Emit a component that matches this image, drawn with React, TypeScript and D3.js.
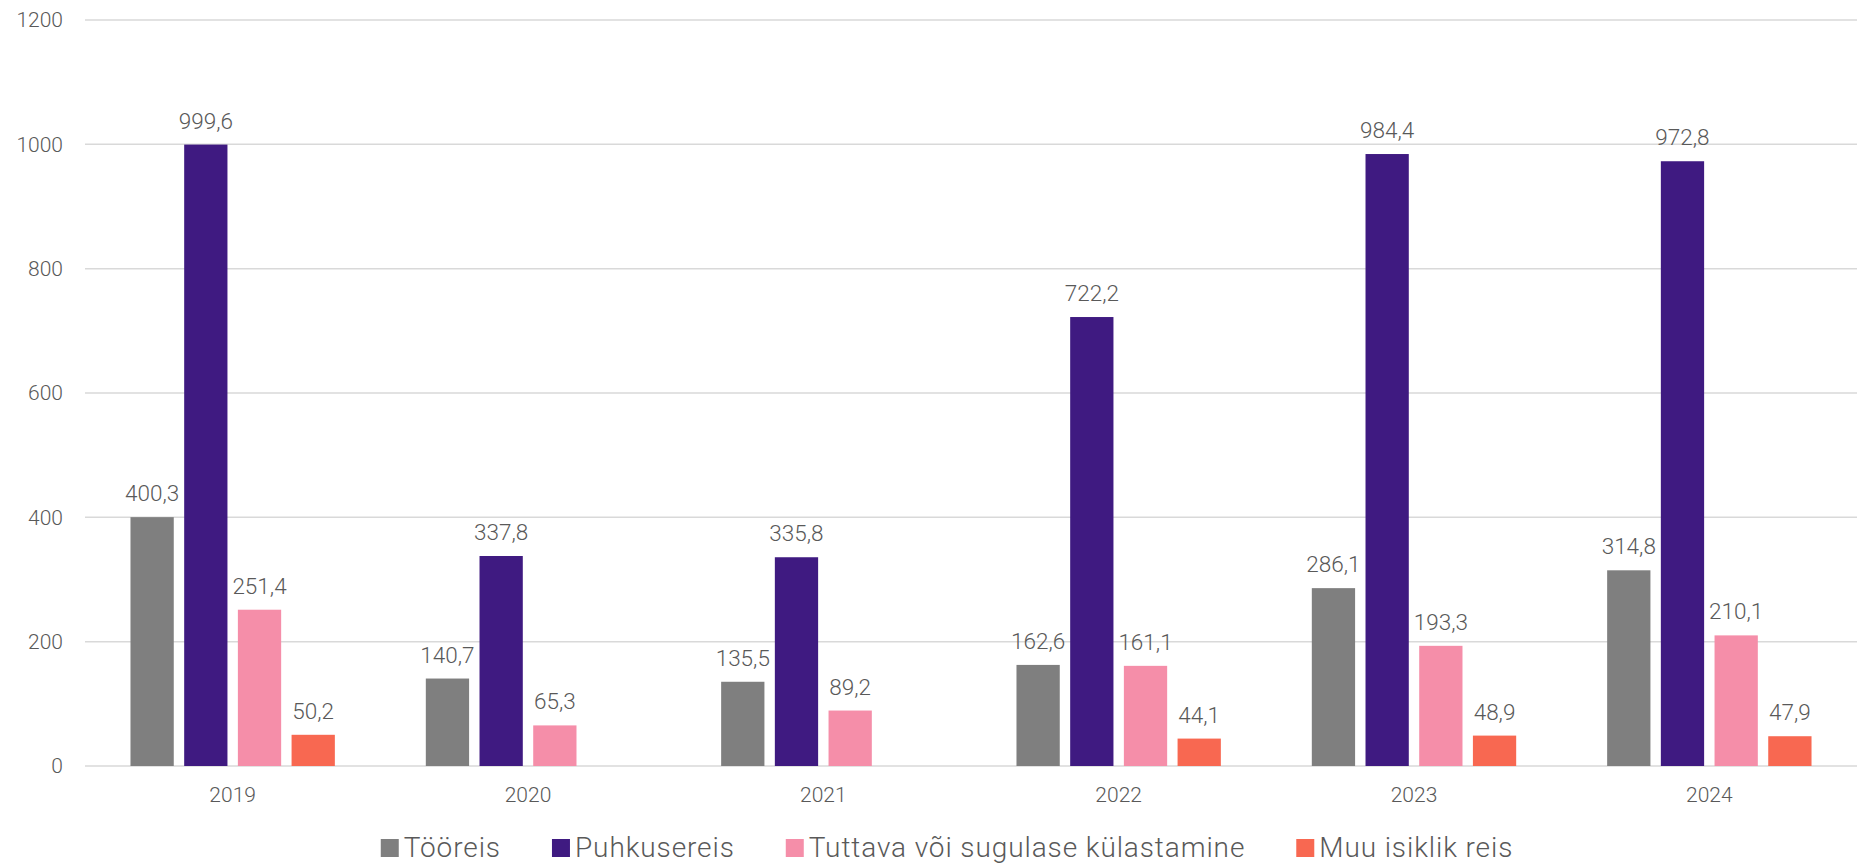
import React, { useEffect, useRef } from "react";
import * as d3 from "d3";

const years = ["2019", "2020", "2021", "2022", "2023", "2024"];
const seriesNames = ["Tööreis", "Puhkusereis", "Tuttava või sugulase külastamine", "Muu isiklik reis"];
const tooreis = [400.3, 140.7, 135.5, 162.6, 286.1, 314.8];
const puhkusereis = [999.6, 337.8, 335.8, 722.2, 984.4, 972.8];
const tuttava = [251.4, 65.3, 89.2, 161.1, 193.3, 210.1];
const muu: (number | null)[] = [50.2, null, null, 44.1, 48.9, 47.9];
const yTicks = [0, 200, 400, 600, 800, 1000, 1200];
const colors = ["#7f7f7f", "#3f1a81", "#f58ea9", "#f86851"];

const W = 1868;
const H = 865;
const FONT = "Roboto, 'Noto Sans', sans-serif";

export default function App() {
  const ref = useRef<SVGSVGElement | null>(null);

  useEffect(() => {
    const svg = d3.select(ref.current);
    svg.selectAll("*").remove();
    const allSeries = [tooreis, puhkusereis, tuttava, muu];
    const left = 85, right = 1857, top = 20, bottom = 766;

    const y = d3.scaleLinear().domain([0, 1200]).range([bottom, top]);
    const x0 = d3.scaleBand<string>().domain(years).range([left, right]).padding(0);
    const bw = x0.bandwidth();
    const groupW = bw * 0.692;
    const x1 = d3
      .scaleBand<number>()
      .domain([0, 1, 2, 3])
      .range([(bw - groupW) / 2, (bw + groupW) / 2])
      .paddingInner(0.194)
      .paddingOuter(0);

    // gridlines
    svg
      .append("g")
      .selectAll("line")
      .data(yTicks)
      .join("line")
      .attr("x1", left)
      .attr("x2", right)
      .attr("y1", (d) => y(d))
      .attr("y2", (d) => y(d))
      .attr("stroke", "#d9d9d9")
      .attr("stroke-width", 1.5);

    // y tick labels
    svg
      .append("g")
      .selectAll("text")
      .data(yTicks)
      .join("text")
      .attr("x", 63)
      .attr("y", (d) => y(d))
      .attr("dy", "0.35em")
      .attr("text-anchor", "end")
      .attr("font-family", FONT)
      .attr("font-weight", 300)
      .attr("font-size", 21)
      .attr("fill", "#595959")
      .text((d) => String(d));

    // bars
    const fmt = (v: number) => v.toFixed(1).replace(".", ",");
    allSeries.forEach((vals, si) => {
      const g = svg.append("g");
      const data = years
        .map((yr, i) => ({ yr, v: vals[i] }))
        .filter((d) => d.v !== null) as { yr: string; v: number }[];
      g.selectAll("rect")
        .data(data)
        .join("rect")
        .attr("x", (d) => (x0(d.yr) as number) + (x1(si) as number))
        .attr("y", (d) => y(d.v))
        .attr("width", x1.bandwidth())
        .attr("height", (d) => y(0) - y(d.v))
        .attr("fill", colors[si]);
      g.selectAll("text")
        .data(data)
        .join("text")
        .attr("x", (d) => (x0(d.yr) as number) + (x1(si) as number) + x1.bandwidth() / 2)
        .attr("y", (d) => y(d.v) - 16)
        .attr("text-anchor", "middle")
        .attr("font-family", FONT)
        .attr("font-weight", 300)
        .attr("font-size", 22.5)
        .attr("fill", "#595959")
        .text((d) => fmt(d.v));
    });

    // x labels
    svg
      .append("g")
      .selectAll("text")
      .data(years)
      .join("text")
      .attr("x", (d) => (x0(d) as number) + bw / 2)
      .attr("y", 802)
      .attr("text-anchor", "middle")
      .attr("font-family", FONT)
      .attr("font-weight", 300)
      .attr("font-size", 21)
      .attr("fill", "#595959")
      .text((d) => d);

    // legend
    const lg = svg.append("g");
    const items = lg
      .selectAll("g")
      .data(seriesNames)
      .join("g");
    items
      .append("rect")
      .attr("width", 18)
      .attr("height", 18)
      .attr("y", -18)
      .attr("fill", (_, i) => colors[i]);
    items
      .append("text")
      .attr("x", 23)
      .attr("y", 0)
      .attr("font-family", FONT)
      .attr("font-weight", 300)
      .attr("font-size", 28)
      .attr("letter-spacing", 0.9)
      .attr("fill", "#595959")
      .text((d) => d);
    let cx = 0;
    const gap = 51;
    const offsets: number[] = [];
    items.each(function () {
      offsets.push(cx);
      const t = (this as SVGGElement).querySelector("text") as SVGTextElement;
      cx += 23 + t.getComputedTextLength() + gap;
    });
    const total = cx - gap;
    const startX = 947 - total / 2;
    items.attr("transform", (_, i) => `translate(${startX + offsets[i]},857)`);
  }, []);

  return (
    <div style={{ position: "absolute", left: 0, top: 0 }}>
      <svg ref={ref} width={W} height={H} style={{ display: "block", background: "#fff" }} />
    </div>
  );
}
